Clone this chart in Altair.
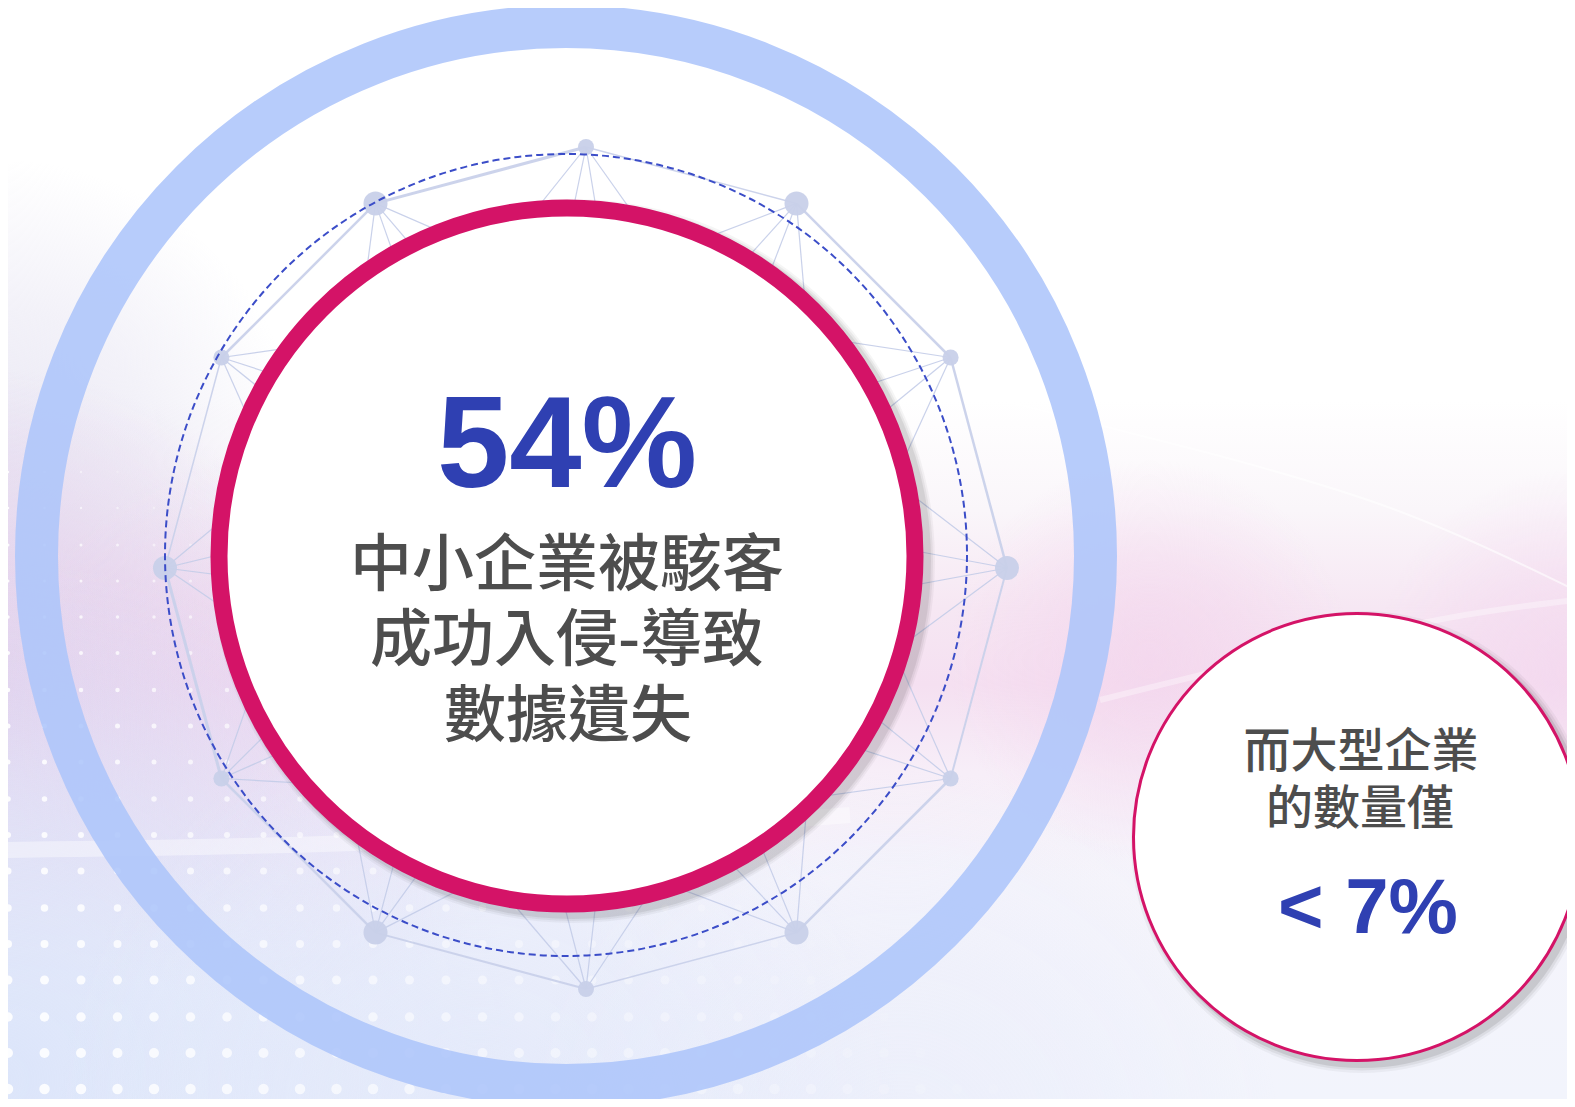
import math
import altair as alt
import pandas as pd

# ---------------- text content ----------------
main_pct = "54%"
main_lines = ["中小企業被駭客", "成功入侵-導致", "數據遺失"]
side_lines = ["而大型企業", "的數量僅"]
side_pct = "< 7%"

# ---------------- canvas ----------------
W, H = 1559, 1091          # chart size (page margin 8px)
XS = alt.Scale(domain=[8, 8 + W], nice=False, zero=False)
YS = alt.Scale(domain=[8, 8 + H], nice=False, zero=False, reverse=True)


def X(f="x"):
    return alt.X(f"{f}:Q", scale=XS, axis=None)


def Y(f="y"):
    return alt.Y(f"{f}:Q", scale=YS, axis=None)


one = pd.DataFrame({"k": [0]})

# ---------------- background ----------------
bg = alt.Chart(one).mark_rect(
    color=alt.LinearGradient(
        gradient="linear", x1=0, y1=0, x2=0, y2=1,
        stops=[
            alt.GradientStop(color="#FFFFFF", offset=0),
            alt.GradientStop(color="#FFFFFF", offset=0.36),
            alt.GradientStop(color="#FAF6FA", offset=0.46),
            alt.GradientStop(color="#F6E7F3", offset=0.55),
            alt.GradientStop(color="#F5E0F1", offset=0.62),
            alt.GradientStop(color="#F7EEF8", offset=0.70),
            alt.GradientStop(color="#F5F4FB", offset=0.8),
            alt.GradientStop(color="#F2F4FC", offset=1),
        ],
    )
).encode(x=alt.value(0), x2=alt.value(W), y=alt.value(0), y2=alt.value(H))

# soft colour glows (centre x, centre y, radius, rgb, alpha)
glow_cx = [0, 0, 280, 0, 480, 900, 1150, 1575]
glow_cy = [460, 700, 730, 1080, 1120, 1150, 660, 670]
glow_r = [300, 330, 280, 520, 420, 380, 200, 200]
glow_rgb = ["232,230,243", "226,204,234", "232,210,238", "220,229,250",
            "224,231,250", "230,234,250", "243,212,236", "243,214,238"]
glow_a = [0.9, 0.9, 0.6, 1.0, 0.8, 0.5, 0.7, 0.7]
glows = []
for gx, gy, rr, rgb, a in zip(glow_cx, glow_cy, glow_r, glow_rgb, glow_a):
    d = pd.DataFrame({"x": [gx - rr], "x2": [gx + rr], "y": [gy - rr], "y2": [gy + rr]})
    glows.append(
        alt.Chart(d).mark_rect(
            color=alt.RadialGradient(
                gradient="radial", x1=0.5, y1=0.5, r1=0, x2=0.5, y2=0.5, r2=0.5,
                stops=[alt.GradientStop(color=f"rgba({rgb},{a})", offset=0),
                       alt.GradientStop(color=f"rgba({rgb},{a * 0.6})", offset=0.5),
                       alt.GradientStop(color=f"rgba({rgb},0)", offset=1)],
            )
        ).encode(x=X(), x2="x2:Q", y=Y(), y2="y2:Q")
    )

# soft white streaks
streak_id = [0, 0, 0, 0, 1, 1, 1, 1, 2, 2, 2, 2]
streak_x = [0, 300, 600, 850, 1000, 1200, 1400, 1575, 1100, 1300, 1450, 1575]
streak_y = [850, 846, 834, 815, 400, 450, 505, 590, 700, 650, 615, 600]
streak_w = [16, 2, 6]
streak_o = [0.4, 0.6, 0.35]
streaks = alt.Chart(pd.DataFrame({
    "x": streak_x, "y": streak_y, "id": streak_id,
    "o": list(range(len(streak_x))),
    "w": [streak_w[i] for i in streak_id],
    "op": [streak_o[i] for i in streak_id],
})).mark_line(interpolate="basis", color="#FFFFFF").encode(
    x=X(), y=Y(), detail="id:N", order="o:Q",
    strokeWidth=alt.StrokeWidth("w:Q", scale=None),
    opacity=alt.Opacity("op:Q", scale=None),
)

# dotted texture (bottom-left)
dot_rows = [472, 508, 545, 581, 617, 653, 690, 726, 762, 799, 835, 871, 908, 944, 980, 1017, 1053, 1089]
dot_diam = [2.5, 2.5, 3, 3, 3.5, 4, 4.5, 5, 5, 5.5, 6, 7, 7.5, 8, 9, 9.5, 10, 10.5]
dot_reach = [150, 230, 330, 430, 520, 600, 650, 690, 720, 740, 760, 800, 850, 880, 920, 960, 1000, 1050]
dot_cols = [8 + 36.5 * i for i in range(32)]
dots = []
for ry, dd, rr in zip(dot_rows, dot_diam, dot_reach):
    for cx in dot_cols:
        if cx < rr:
            dots.append({"x": cx, "y": ry, "s": dd * dd,
                         "o": 0.9 * (1 - cx / rr) ** 0.9})
dot_layer = alt.Chart(pd.DataFrame(dots)).mark_point(
    shape="circle", filled=True, color="#FFFFFF"
).encode(x=X(), y=Y(), size=alt.Size("s:Q", scale=None),
         opacity=alt.Opacity("o:Q", scale=None))

# ---------------- big blue ring ----------------
ring_cx, ring_cy, ring_r, ring_w = 566, 556, 529.5, 43
ring = alt.Chart(pd.DataFrame({"x": [ring_cx], "y": [ring_cy]})).mark_point(
    shape="circle", filled=False, stroke="#AEC6FB", strokeWidth=ring_w,
    size=(2 * ring_r) ** 2, opacity=0.88,
).encode(x=X(), y=Y())

# ---------------- network of nodes ----------------
net_cx, net_cy, net_r = 586, 568, 421
node_angles = [0, 30, 60, 90, 120, 150, 180, 210, 240, 270, 300, 330]
node_radius = [12, 8, 12, 8, 12, 8, 12, 8, 12, 8, 12, 8]
edge_width = [2.5, 2.5, 1.5, 3, 2.5, 1.5, 3, 2.5, 2, 1.5, 2.5, 2]
fan_offsets = [-38, -12, 9, 36]
fan_len = 210

nodes = []
for a, nr in zip(node_angles, node_radius):
    t = math.radians(a)
    nodes.append({"x": net_cx + net_r * math.cos(t),
                  "y": net_cy - net_r * math.sin(t),
                  "s": (2 * nr) ** 2, "a": a})
edges = []
for i, nd in enumerate(nodes):
    nx = nodes[(i + 1) % len(nodes)]
    edges.append({"x": nd["x"], "y": nd["y"], "x2": nx["x"], "y2": nx["y"], "w": edge_width[i]})
fans = []
for nd in nodes:
    base = math.atan2(556 - nd["y"], 567 - nd["x"])
    for off in fan_offsets:
        t = base + math.radians(off)
        fans.append({"x": nd["x"], "y": nd["y"],
                     "x2": nd["x"] + fan_len * math.cos(t),
                     "y2": nd["y"] + fan_len * math.sin(t)})

fan_layer = alt.Chart(pd.DataFrame(fans)).mark_rule(
    color="#C3CCE8", strokeWidth=1.2, opacity=0.9
).encode(x=X(), y=Y(), x2="x2:Q", y2="y2:Q")
edge_layer = alt.Chart(pd.DataFrame(edges)).mark_rule(
    color="#C9D1EA", opacity=0.95
).encode(x=X(), y=Y(), x2="x2:Q", y2="y2:Q",
         strokeWidth=alt.StrokeWidth("w:Q", scale=None))
node_layer = alt.Chart(pd.DataFrame(nodes)).mark_point(
    shape="circle", filled=True, color="#C8D0E9", opacity=0.95
).encode(x=X(), y=Y(), size=alt.Size("s:Q", scale=None))

# dashed circle
dash = alt.Chart(pd.DataFrame({"x": [566], "y": [555]})).mark_point(
    shape="circle", filled=False, stroke="#3B4DC8", strokeWidth=2,
    strokeDash=[7, 4], size=(2 * 401) ** 2, opacity=1,
).encode(x=X(), y=Y())

# ---------------- crimson circle ----------------
cc_x, cc_y, cc_r, cc_w = 567, 556, 348, 17
shadow_r = [362, 360, 358]
shadow_o = [0.04, 0.05, 0.07]
cshadow = alt.Chart(pd.DataFrame({
    "x": [cc_x + 6] * 3, "y": [cc_y + 5] * 3,
    "s": [(2 * r) ** 2 for r in shadow_r], "o": shadow_o,
})).mark_point(shape="circle", filled=True, color="#000000").encode(
    x=X(), y=Y(), size=alt.Size("s:Q", scale=None),
    opacity=alt.Opacity("o:Q", scale=None))
crimson = alt.Chart(pd.DataFrame({"x": [cc_x], "y": [cc_y]})).mark_point(
    shape="circle", filled=False, fill="#FFFFFF", fillOpacity=1,
    stroke="#D41367", strokeWidth=cc_w, size=(2 * cc_r) ** 2, opacity=1,
).encode(x=X(), y=Y())

pct_text = alt.Chart(pd.DataFrame({"x": [567], "y": [487], "t": [main_pct]})).mark_text(
    font="Liberation Sans", fontWeight="bold", fontSize=130, color="#2F40B2",
    align="center", baseline="alphabetic",
).encode(x=X(), y=Y(), text="t:N")

main_text = alt.Chart(pd.DataFrame({
    "x": [567, 567, 568], "y": [567, 642, 718], "t": main_lines,
})).mark_text(
    font="Noto Sans CJK TC", fontWeight=500, fontSize=62, color="#4D4D4D",
    align="center", baseline="middle",
).encode(x=X(), y=Y(), text="t:N")

# ---------------- small side circle ----------------
sc_x, sc_y, sc_r = 1357, 837, 223.5
sshadow = alt.Chart(pd.DataFrame({
    "x": [sc_x + 5] * 3, "y": [sc_y + 5] * 3,
    "s": [(2 * r) ** 2 for r in [231, 228.5, 226]], "o": [0.04, 0.06, 0.09],
})).mark_point(shape="circle", filled=True, color="#000000").encode(
    x=X(), y=Y(), size=alt.Size("s:Q", scale=None),
    opacity=alt.Opacity("o:Q", scale=None))
small = alt.Chart(pd.DataFrame({"x": [sc_x], "y": [sc_y]})).mark_point(
    shape="circle", filled=False, fill="#FFFFFF", fillOpacity=1,
    stroke="#D41367", strokeWidth=3, size=(2 * sc_r) ** 2, opacity=1,
).encode(x=X(), y=Y())

side_text = alt.Chart(pd.DataFrame({
    "x": [1361, 1360], "y": [753, 810], "t": side_lines,
})).mark_text(
    font="Noto Sans CJK TC", fontWeight=500, fontSize=47, color="#4D4D4D",
    align="center", baseline="middle",
).encode(x=X(), y=Y(), text="t:N")

side_pct_text = alt.Chart(pd.DataFrame({"x": [1368], "y": [933], "t": [side_pct]})).mark_text(
    font="Liberation Sans", fontWeight="bold", fontSize=78, color="#2F40B2",
    align="center", baseline="alphabetic",
).encode(x=X(), y=Y(), text="t:N")

chart = alt.layer(
    bg, *glows, streaks, dot_layer, ring,
    fan_layer, edge_layer, node_layer, dash,
    cshadow, crimson, pct_text, main_text,
    sshadow, small, side_text, side_pct_text,
).properties(
    width=W, height=H, padding=0, background="#FFFFFF",
    autosize=alt.AutoSizeParams(type="none"),
).configure_view(strokeWidth=0, clip=True)

chart.save("out.html", embed_options={"renderer": "svg", "actions": False})
